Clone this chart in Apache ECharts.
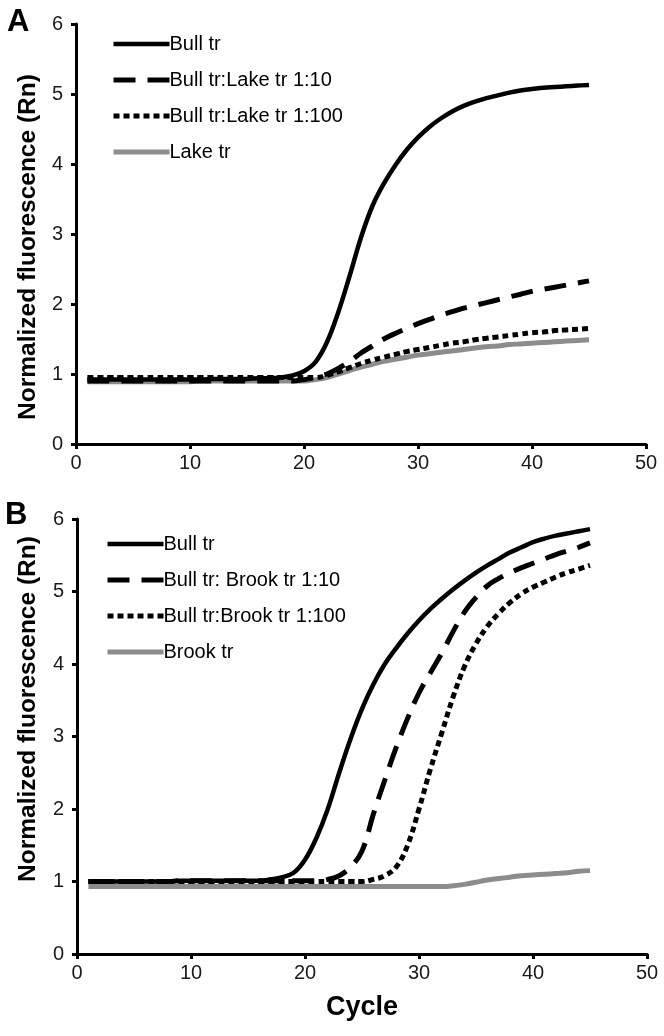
<!DOCTYPE html>
<html><head><meta charset="utf-8">
<script src="https://cdn.jsdelivr.net/npm/echarts@6/dist/echarts.min.js"></script>
<style>html,body{margin:0;padding:0;background:#fff}#c{width:664px;height:1036px}</style>
</head><body><div id="c"></div>
<script>
const cycles = [1,2,3,4,5,6,7,8,9,10,11,12,13,14,15,16,17,18,19,20,21,22,23,24,25,26,27,28,29,30,31,32,33,34,35,36,37,38,39,40,41,42,43,44,45];
const xTicks = [0,10,20,30,40,50];
const yTicks = [0,1,2,3,4,5,6];

const namesA = ['Bull tr','Bull tr:Lake tr 1:10','Bull tr:Lake tr 1:100','Lake tr'];
const namesB = ['Bull tr','Bull tr: Brook tr 1:10','Bull tr:Brook tr 1:100','Brook tr'];

const aBull = [0.92,0.92,0.92,0.92,0.92,0.92,0.92,0.92,0.92,0.92,0.92,0.93,0.93,0.93,0.93,0.94,0.94,0.95,0.98,1.04,1.17,1.45,1.88,2.4,2.95,3.4,3.72,3.98,4.2,4.38,4.53,4.65,4.75,4.83,4.89,4.94,4.98,5.02,5.05,5.07,5.09,5.1,5.11,5.12,5.13];
const aMix10 = [0.9,0.9,0.9,0.9,0.9,0.9,0.9,0.9,0.9,0.9,0.9,0.9,0.9,0.9,0.9,0.9,0.9,0.9,0.9,0.92,0.95,1.0,1.08,1.18,1.3,1.4,1.5,1.58,1.65,1.72,1.78,1.84,1.89,1.94,1.98,2.02,2.06,2.1,2.14,2.18,2.21,2.24,2.27,2.3,2.33];
const aMix100 = [0.95,0.95,0.95,0.95,0.95,0.95,0.95,0.95,0.95,0.95,0.95,0.95,0.95,0.95,0.95,0.95,0.95,0.95,0.95,0.95,0.95,0.98,1.03,1.09,1.15,1.2,1.24,1.28,1.32,1.35,1.38,1.41,1.44,1.46,1.49,1.51,1.53,1.55,1.57,1.59,1.6,1.62,1.63,1.64,1.65];
const aLake = [0.89,0.89,0.89,0.89,0.89,0.89,0.89,0.89,0.89,0.89,0.9,0.9,0.9,0.9,0.9,0.9,0.9,0.9,0.9,0.9,0.92,0.95,1.0,1.05,1.1,1.14,1.18,1.21,1.24,1.27,1.29,1.31,1.33,1.35,1.37,1.39,1.4,1.42,1.43,1.44,1.45,1.46,1.47,1.48,1.49];

const bBull = [1.0,1.0,1.0,1.0,1.0,1.0,1.0,1.0,1.01,1.01,1.01,1.01,1.01,1.01,1.01,1.01,1.03,1.06,1.12,1.3,1.6,2.0,2.5,2.97,3.38,3.72,4.0,4.22,4.42,4.6,4.76,4.9,5.03,5.15,5.26,5.36,5.45,5.54,5.61,5.68,5.73,5.77,5.8,5.83,5.86];
const bMix10 = [1.0,1.0,1.0,1.0,1.0,1.0,1.0,1.0,1.01,1.01,1.01,1.01,1.01,1.01,1.01,1.01,1.01,1.01,1.01,1.01,1.01,1.03,1.08,1.2,1.42,1.93,2.4,2.85,3.25,3.6,3.88,4.15,4.45,4.72,4.92,5.08,5.18,5.26,5.33,5.39,5.45,5.51,5.56,5.61,5.67];
const bMix100 = [1.0,1.0,1.0,1.0,1.0,1.0,1.0,1.0,1.0,1.0,1.0,1.0,1.0,1.0,1.0,1.0,1.0,1.0,1.0,1.0,1.0,1.0,1.0,1.0,1.0,1.03,1.08,1.2,1.5,2.0,2.55,3.05,3.55,3.97,4.28,4.52,4.7,4.85,4.97,5.06,5.13,5.2,5.26,5.31,5.36];
const bBrook = [0.93,0.93,0.93,0.93,0.93,0.93,0.93,0.93,0.93,0.93,0.93,0.93,0.93,0.93,0.93,0.93,0.93,0.93,0.93,0.93,0.93,0.93,0.93,0.93,0.93,0.93,0.93,0.93,0.93,0.93,0.93,0.93,0.94,0.96,0.99,1.02,1.04,1.06,1.08,1.09,1.1,1.11,1.12,1.14,1.15];

const FONT = 'Liberation Sans, Arial, sans-serif';
const styles = [
  {color:'#000', width:4.5, type:'solid'},
  {color:'#000', width:5, type:[22,12]},
  {color:'#000', width:5, type:[6,4]},
  {color:'#8c8c8c', width:5, type:'solid'}
];

function pairs(vals){ return cycles.map((c,i)=>[c, vals[i]]); }

function mkSeries(names, arrays, gi){
  return names.map((n,i)=>({
    name:n, type:'line', xAxisIndex:gi, yAxisIndex:gi,
    data:pairs(arrays[i]), showSymbol:false, symbol:'none',
    smooth:0.4, z: i===3 ? 2 : 10 - i,
    lineStyle:{color:styles[i].color, width:styles[i].width, type:styles[i].type, cap:'butt'},
    itemStyle:{color:styles[i].color}
  }));
}

function legendData(names){
  return names.map((n,i)=>({
    name:n,
    itemStyle:{color:'rgba(0,0,0,0)', opacity:0, borderWidth:0},
    lineStyle:{color:styles[i].color, width:styles[i].width, type:styles[i].type, cap:'butt'}
  }));
}

const axisLine = {show:true, lineStyle:{color:'#000', width:3}};
const axisTick = {show:true, inside:false, length:5, lineStyle:{color:'#000', width:3}};
const labelStyle = {color:'#1a1a1a', fontFamily:FONT, fontSize:20};

function xAx(gi){
  return {type:'value', gridIndex:gi, min:xTicks[0], max:xTicks[xTicks.length-1], interval:10,
    axisLine, axisTick, splitLine:{show:false},
    axisLabel:Object.assign({margin:9}, labelStyle),
    name: gi===1 ? 'Cycle' : '', nameLocation:'middle', nameGap:40,
    nameTextStyle:{fontFamily:FONT, fontWeight:'bold', fontSize:27, color:'#000'}};
}
function yAx(gi){
  return {type:'value', gridIndex:gi, min:yTicks[0], max:yTicks[yTicks.length-1], interval:1,
    axisLine, axisTick, splitLine:{show:false},
    axisLabel:Object.assign({margin:13}, labelStyle)};
}

const legendCommon = {orient:'vertical', itemWidth:56, itemHeight:14, itemGap:16,
  textStyle:{fontFamily:FONT, fontSize:20, color:'#000', padding:[0,0,0,-5], lineHeight:20},
  selectedMode:false};

const chart = echarts.init(document.getElementById('c'), null, {renderer:'canvas'});
chart.setOption({
  backgroundColor:'#fff',
  animation:false,
  grid:[
    {left:76, right:18, top:24, height:420},
    {left:77, right:17, top:519, height:435}
  ],
  xAxis:[xAx(0), xAx(1)],
  yAxis:[yAx(0), yAx(1)],
  legend:[
    Object.assign({}, legendCommon, {left:106, top:29, data:legendData(namesA)}),
    Object.assign({}, legendCommon, {left:100, top:529, data:legendData(namesB)})
  ],
  graphic:[
    {type:'text', left:7, top:7, style:{text:'A', fontFamily:FONT, fontWeight:'bold', fontSize:31, fill:'#000'}},
    {type:'text', left:5, top:500, style:{text:'B', fontFamily:FONT, fontWeight:'bold', fontSize:31, fill:'#000'}},
    {type:'text', x:28, y:247, rotation:Math.PI/2, style:{text:'Normalized fluorescence (Rn)', fontFamily:FONT, fontWeight:'bold', fontSize:24.5, fill:'#000', align:'center', verticalAlign:'middle'}},
    {type:'text', x:28, y:709, rotation:Math.PI/2, style:{text:'Normalized fluorescence (Rn)', fontFamily:FONT, fontWeight:'bold', fontSize:24.5, fill:'#000', align:'center', verticalAlign:'middle'}}
  ],
  series:[].concat(mkSeries(namesA,[aBull,aMix10,aMix100,aLake],0), mkSeries(namesB,[bBull,bMix10,bMix100,bBrook],1))
});
</script></body></html>
